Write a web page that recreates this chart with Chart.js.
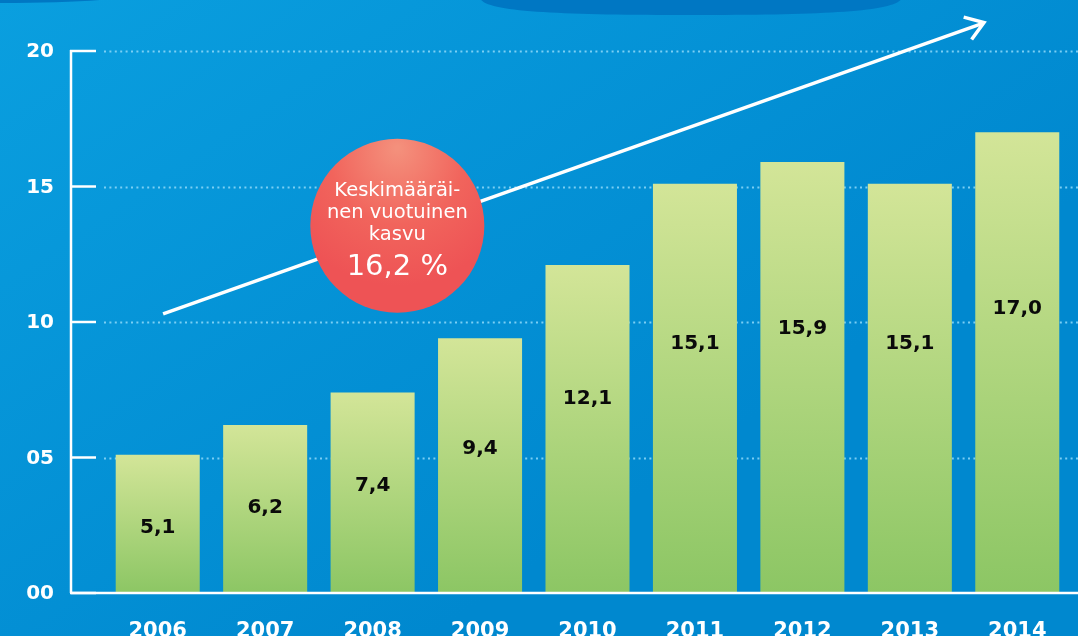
<!DOCTYPE html>
<html>
<head>
<meta charset="utf-8">
<script src="https://cdn.jsdelivr.net/npm/chart.js@4.4.1/dist/chart.umd.min.js"></script>
<style>
  html, body { margin: 0; padding: 0; background: #0092d6; overflow: hidden; }
  #wrap { width: 1078px; height: 636px; }
</style>
</head>
<body>
<div id="wrap"><canvas id="chart" width="1078" height="636"></canvas></div>
<script>
// Data
const years = ['2006', '2007', '2008', '2009', '2010', '2011', '2012', '2013', '2014'];
const values = [5.1, 6.2, 7.4, 9.4, 12.1, 15.1, 15.9, 15.1, 17.0];
const yTicks = [0, 5, 10, 15, 20];
const yTickLabels = ['00', '05', '10', '15', '20'];

// Trend arrow + growth bubble (in data coordinates)
const trendStart = { x: 0.05, y: 10.3 };
const trendEnd = { x: 7.69, y: 21.05 };
const bubbleAt = { x: 2.23, y: 13.55 };
const bubbleLines = ['Keskimääräi-', 'nen vuotuinen', 'kasvu'];
const bubbleValue = '16,2 %';

const FONT = '"DejaVu Sans", sans-serif';

function fmt(v) {
    return v.toFixed(1).replace('.', ',');
}

// Green gradient per bar, top to bottom
function barGradient(context) {
    const chart = context.chart;
    const y = chart.scales.y;
    if (!chart.chartArea || !y) return '#b0d67f';
    const v = values[context.dataIndex];
    const top = y.getPixelForValue(v);
    const base = y.getPixelForValue(0);
    const g = chart.ctx.createLinearGradient(0, top, 0, base);
    g.addColorStop(0, '#d3e598');
    g.addColorStop(1, '#8cc664');
    return g;
}

// Background, dotted grid, hand-drawn axes
const backdrop = {
    id: 'backdrop',
    beforeDraw(chart) {
        const { ctx, width, height } = chart;
        ctx.save();
        const bg = ctx.createLinearGradient(0, 0, width * 0.4, height);
        bg.addColorStop(0, '#0a9fdf');
        bg.addColorStop(1, '#0088cf');
        ctx.fillStyle = bg;
        ctx.fillRect(0, 0, width, height);

        // darker shapes peeking in at the top
        ctx.fillStyle = '#0077c3';
        ctx.beginPath();
        ctx.moveTo(480, -2);
        ctx.bezierCurveTo(484, 12, 560, 15, 691, 15);
        ctx.bezierCurveTo(822, 15, 896, 12, 902, -2);
        ctx.closePath();
        ctx.fill();
        ctx.beginPath();
        ctx.moveTo(0, -2);
        ctx.lineTo(0, 3);
        ctx.quadraticCurveTo(80, 3, 120, -2);
        ctx.closePath();
        ctx.fill();
        ctx.restore();
    },
    beforeDatasetsDraw(chart) {
        const { ctx, chartArea, width } = chart;
        const y = chart.scales.y;
        ctx.save();
        ctx.strokeStyle = 'rgba(130, 210, 245, 0.95)';
        ctx.lineWidth = 2;
        ctx.setLineDash([2, 3.4]);
        yTicks.forEach(t => {
            if (t === 0) return;
            const py = Math.round(y.getPixelForValue(t)) + 0.5;
            ctx.beginPath();
            ctx.moveTo(chartArea.left, py);
            ctx.lineTo(width, py);
            ctx.stroke();
        });
        ctx.restore();
    },
    afterDatasetsDraw(chart) {
        const { ctx, width } = chart;
        const x = chart.scales.x;
        const y = chart.scales.y;
        const axisX = 71;
        ctx.save();
        ctx.strokeStyle = '#ffffff';
        ctx.lineWidth = 2.5;
        // vertical axis
        ctx.beginPath();
        ctx.moveTo(axisX, y.getPixelForValue(20) - 1);
        ctx.lineTo(axisX, y.getPixelForValue(0));
        ctx.stroke();
        // baseline
        ctx.beginPath();
        ctx.moveTo(axisX, y.getPixelForValue(0));
        ctx.lineTo(width, y.getPixelForValue(0));
        ctx.stroke();
        // ticks + labels
        ctx.fillStyle = '#ffffff';
        ctx.font = 'bold 20px ' + FONT;
        ctx.textAlign = 'right';
        ctx.textBaseline = 'middle';
        yTicks.forEach((t, i) => {
            const py = y.getPixelForValue(t);
            ctx.beginPath();
            ctx.moveTo(axisX - 1, py);
            ctx.lineTo(axisX + 25, py);
            ctx.stroke();
            ctx.fillText(yTickLabels[i], 54, py + 1);
        });
        // year labels
        ctx.font = 'bold 21px ' + FONT;
        ctx.textAlign = 'center';
        ctx.textBaseline = 'alphabetic';
        years.forEach((yr, i) => {
            ctx.fillText(yr, x.getPixelForValue(i), 637);
        });

        // value labels inside bars
        ctx.fillStyle = '#0a0a0a';
        ctx.font = 'bold 20px ' + FONT;
        ctx.textBaseline = 'middle';
        const meta = chart.getDatasetMeta(0);
        meta.data.forEach((bar, i) => {
            const h = bar.base - bar.y;
            ctx.fillText(fmt(values[i]), bar.x, bar.y + 29 + 0.32 * h);
        });

        // trend arrow
        const x0 = x.getPixelForValue(trendStart.x), y0 = y.getPixelForValue(trendStart.y);
        const x1 = x.getPixelForValue(trendEnd.x), y1 = y.getPixelForValue(trendEnd.y);
        ctx.strokeStyle = '#ffffff';
        ctx.lineWidth = 3.5;
        ctx.lineCap = 'butt';
        ctx.beginPath();
        ctx.moveTo(x0, y0);
        ctx.lineTo(x1 - 2, y1 + 1);
        ctx.stroke();
        const ang = Math.atan2(y1 - y0, x1 - x0);
        const hl = 21;
        ctx.beginPath();
        ctx.moveTo(x1 + hl * Math.cos(ang + Math.PI - 0.6), y1 + hl * Math.sin(ang + Math.PI - 0.6));
        ctx.lineTo(x1, y1);
        ctx.lineTo(x1 + hl * Math.cos(ang + Math.PI + 0.6), y1 + hl * Math.sin(ang + Math.PI + 0.6));
        ctx.stroke();

        // growth bubble
        const cx = x.getPixelForValue(bubbleAt.x), cy = y.getPixelForValue(bubbleAt.y);
        const r = 87;
        const rg = ctx.createRadialGradient(cx, cy - 78, 2, cx, cy - 60, 120);
        rg.addColorStop(0, '#f4907c');
        rg.addColorStop(0.55, '#f1645c');
        rg.addColorStop(1, '#ee5355');
        ctx.fillStyle = rg;
        ctx.beginPath();
        ctx.arc(cx, cy, r, 0, Math.PI * 2);
        ctx.fill();

        ctx.fillStyle = '#ffffff';
        ctx.textAlign = 'center';
        ctx.textBaseline = 'middle';
        ctx.font = '19.5px ' + FONT;
        bubbleLines.forEach((ln, i) => {
            ctx.fillText(ln, cx, cy - 35 + i * 22);
        });
        ctx.font = '29px ' + FONT;
        ctx.fillText(bubbleValue, cx, cy + 42);
        ctx.restore();
    }
};

new Chart(document.getElementById('chart'), {
    type: 'bar',
    data: {
        labels: years,
        datasets: [{
            data: values,
            backgroundColor: barGradient,
            borderWidth: 0,
            categoryPercentage: 1,
            barPercentage: 0.782
        }]
    },
    options: {
        responsive: false,
        animation: false,
        events: [],
        layout: { padding: { left: 104, right: 7, top: 51, bottom: 43 } },
        plugins: {
            legend: { display: false },
            tooltip: { enabled: false }
        },
        scales: {
            x: { display: false, offset: true },
            y: { display: false, min: 0, max: 20 }
        }
    },
    plugins: [backdrop]
});
</script>
</body>
</html>
